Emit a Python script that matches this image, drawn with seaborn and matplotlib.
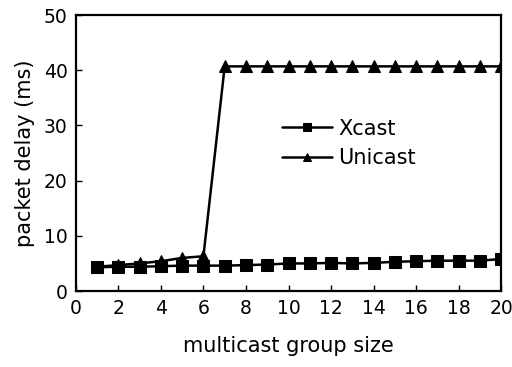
import numpy as np
import pandas as pd
import matplotlib
matplotlib.use('Agg')
import matplotlib.pyplot as plt
import seaborn as sns

group_size = list(range(1, 21))
xcast_delay = [4.3, 4.4, 4.4, 4.5, 4.6, 4.6, 4.6, 4.7, 4.8, 5.0,
               5.0, 5.1, 5.0, 5.1, 5.3, 5.4, 5.5, 5.5, 5.5, 5.8]
unicast_delay = [4.4, 4.7, 5.0, 5.4, 6.0, 6.3, 40.7, 40.7, 40.7, 40.7,
                 40.7, 40.7, 40.7, 40.7, 40.7, 40.7, 40.7, 40.7, 40.7, 40.7]
series_names = ['Xcast', 'Unicast']

df = pd.DataFrame({
    'size': group_size * 2,
    'delay': xcast_delay + unicast_delay,
    'protocol': [series_names[0]] * 20 + [series_names[1]] * 20,
})

sns.set_style('white')
plt.rcParams['font.family'] = ['DejaVu Sans']
plt.rcParams['text.color'] = 'black'
plt.rcParams['axes.labelcolor'] = 'black'

fig = plt.figure(figsize=(5.12, 3.67), dpi=100)
ax = fig.add_axes([0.148, 0.207, 0.831, 0.752])

sns.lineplot(data=df, x='size', y='delay', hue='protocol', style='protocol',
             markers={'Xcast': 's', 'Unicast': '^'}, dashes=False,
             palette={'Xcast': 'black', 'Unicast': 'black'},
             linewidth=1.8, markersize=8, markeredgecolor='black', ax=ax)

ax.set_xlim(0, 20)
ax.set_ylim(0, 50)
ax.set_xticks(range(0, 21, 2))
ax.set_yticks(range(0, 51, 10))
ax.tick_params(direction='in', length=4, width=1, labelsize=13.5, colors='black',
               bottom=True, left=True, pad=6)
for s in ax.spines.values():
    s.set_color('black')
    s.set_linewidth(1.6)

ax.set_xlabel('multicast group size', fontsize=15, labelpad=13, color='black')
ax.set_ylabel('packet delay (ms)', fontsize=15, labelpad=6, color='black')

leg = ax.legend(loc='center left', bbox_to_anchor=(0.485, 0.535), frameon=False,
                fontsize=15, handlelength=2.4, handletextpad=0.3, labelspacing=0.45,
                markerscale=0.8, borderaxespad=0, borderpad=0)
for t in leg.get_texts():
    t.set_color('black')

fig.savefig('out.png', dpi=100)
